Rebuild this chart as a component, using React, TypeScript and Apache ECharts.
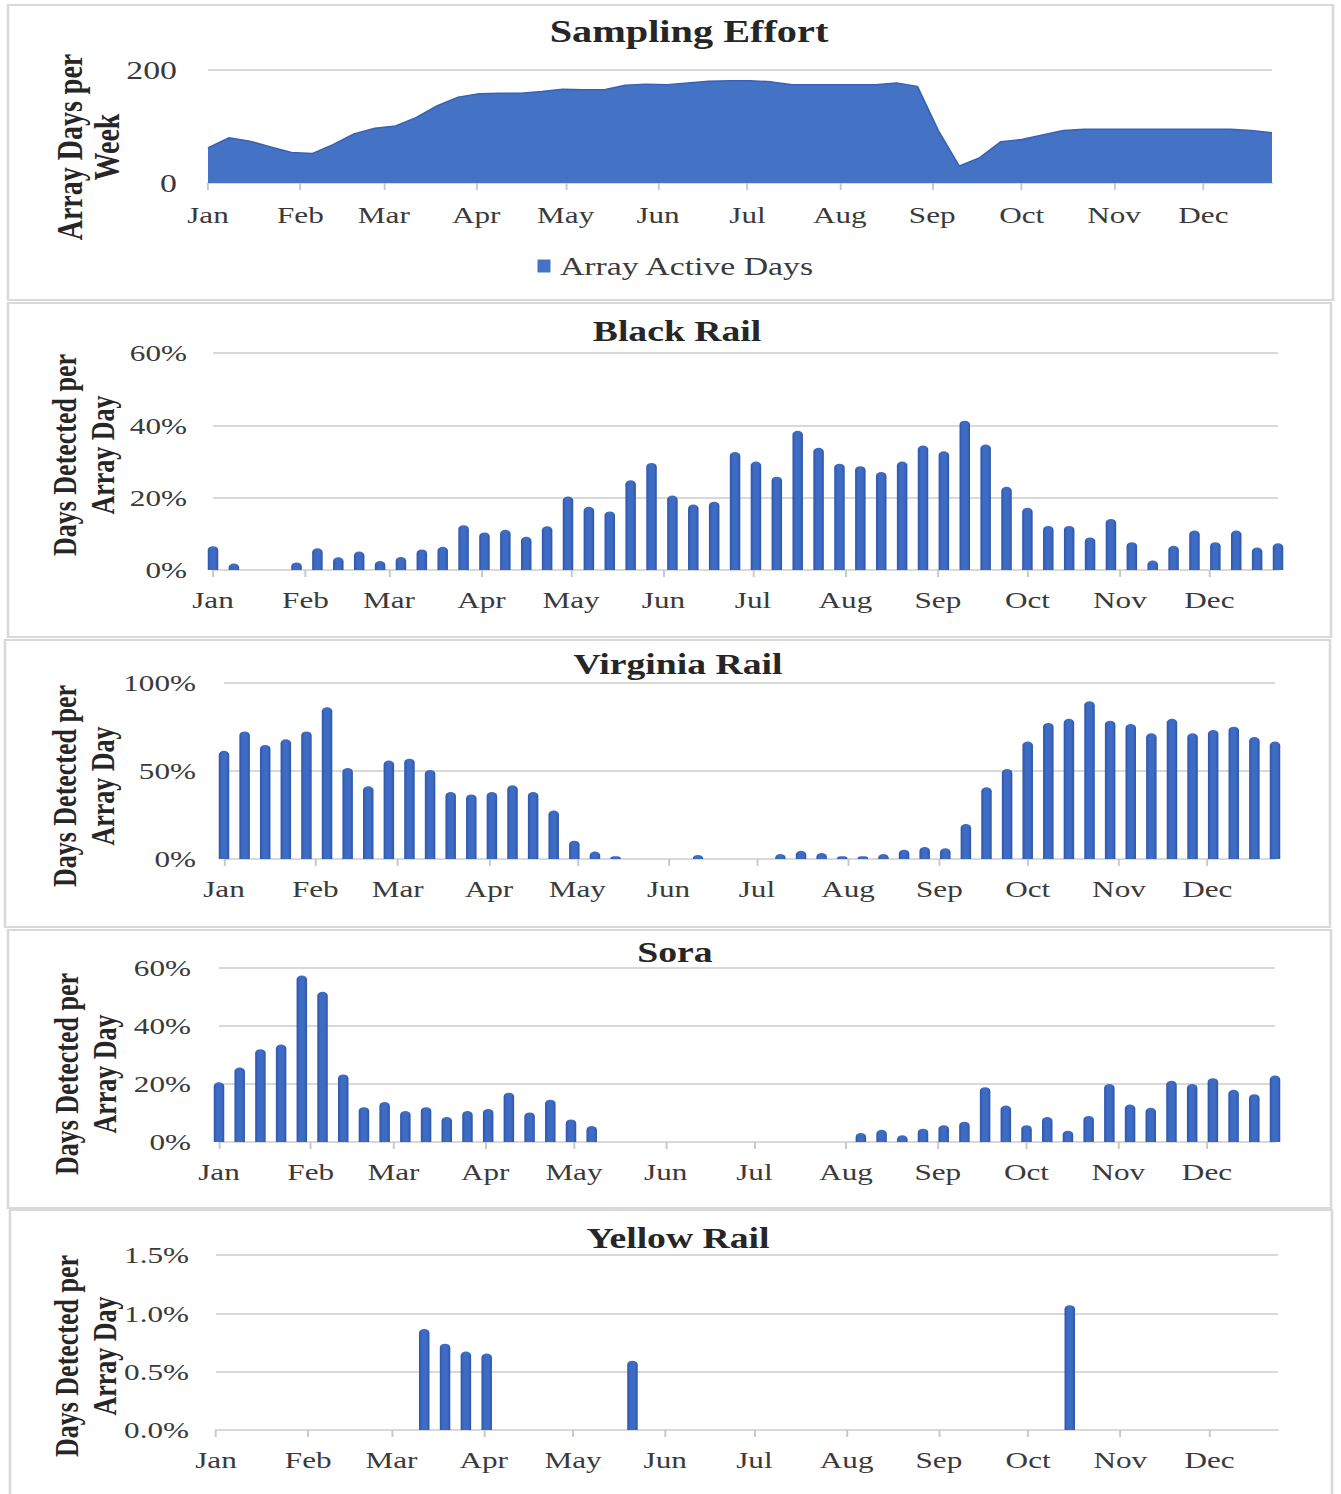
import React, { useEffect, useRef } from "react";
import * as echarts from "echarts";

// ---------- data ----------
const MONTHS = ["Jan", "Feb", "Mar", "Apr", "May", "Jun", "Jul", "Aug", "Sep", "Oct", "Nov", "Dec"];
const MONTH_START_DAYS = [0, 31, 59, 90, 120, 151, 181, 212, 243, 273, 304, 334];
const WEEK_START_DAYS = [
  0, 7, 14, 21, 28, 35, 42, 49, 56, 63, 70, 77, 84, 91, 98, 105, 112, 119, 126, 133, 140, 147, 154, 161, 168, 175,
  182, 189, 196, 203, 210, 217, 224, 231, 238, 245, 252, 259, 266, 273, 280, 287, 294, 301, 308, 315, 322, 329, 336,
  343, 350, 357,
];

const SAMPLING_EFFORT = [
  62, 80, 74, 64, 54, 52, 68, 87, 97, 101, 116, 137, 152, 158, 159, 159, 162, 166, 165, 165, 173, 175, 174, 177, 180,
  181, 181, 179, 174, 174, 174, 174, 174, 177, 171, 93, 30, 45, 73, 77, 85, 93, 95, 95, 95, 95, 95, 95, 95, 95, 93, 89,
];

const BLACK_RAIL = [
  6.6, 1.8, 0, 0, 2.1, 6, 3.5, 5.1, 2.5, 3.6, 5.7, 6.4, 12.4, 10.4, 11.1, 9.2, 12.1, 20.3, 17.5, 16.2, 24.8, 29.6,
  20.6, 18.1, 18.9, 32.6, 30, 25.8, 38.5, 33.8, 29.4, 28.7, 27.1, 30, 34.4, 32.8, 41.3, 34.7, 23, 17.2, 12.2, 12.2, 9,
  14.1, 7.7, 2.6, 6.7, 10.9, 7.7, 10.9, 6.2, 7.4,
];

const VIRGINIA_RAIL = [
  61.5, 72.5, 64.8, 68, 72.5, 86.2, 51.7, 41.3, 55.9, 57, 50.6, 38, 36.7, 38, 41.9, 38, 27.5, 10.4, 4.2, 1.5, 0, 0, 0,
  2.3, 0, 0, 0, 2.8, 4.7, 3.4, 1.5, 1.5, 2.8, 5.3, 6.8, 6.1, 19.9, 40.7, 51.1, 66.7, 77.3, 79.7, 89.6, 78.6, 76.7,
  71.4, 79.7, 71.4, 73.3, 75.2, 69.3, 66.7,
];

const SORA = [
  20.6, 25.7, 32, 33.6, 57.4, 51.8, 23.3, 12, 13.8, 10.7, 12, 8.6, 10.7, 11.4, 17, 10.2, 14.6, 7.8, 5.5, 0, 0, 0, 0,
  0, 0, 0, 0, 0, 0, 0, 0, 3.1, 4.2, 2.3, 4.6, 5.8, 7, 18.9, 12.6, 5.8, 8.6, 3.9, 9, 20, 12.9, 11.8, 21.1, 20, 22, 18,
  16.5, 22.9,
];

const YELLOW_RAIL = [
  0, 0, 0, 0, 0, 0, 0, 0, 0, 0, 0.866, 0.74, 0.673, 0.656, 0, 0, 0, 0, 0, 0, 0.594, 0, 0, 0, 0, 0, 0, 0, 0, 0, 0, 0, 0,
  0, 0, 0, 0, 0, 0, 0, 0, 1.07, 0, 0, 0, 0, 0, 0, 0, 0, 0, 0,
];

const EFFORT_TICKS = [0, 200];
const BLACK_TICKS = [0, 20, 40, 60];
const VIRGINIA_TICKS = [0, 50, 100];
const SORA_TICKS = [0, 20, 40, 60];
const YELLOW_TICKS = [0, 0.5, 1, 1.5];

// ---------- layout (reference pixel coords; x is scaled by S) ----------
const CW = 1032;
const CH = 1494;
const S = 1341 / CW;
const cx = (x: number) => x / S;

const FONT = "'Liberation Serif', 'Times New Roman', Times, serif";
const TEXT = "#3a3a3a";
const DARK = "#262626";
const GRID_LINE = "#d9d9d9";

type Panel = {
  title: string;
  titleX: number;
  titleY: number;
  titleSize: number;
  box: number[];
  plot: number[];
  ticks: number[];
  fmt: (v: number) => string;
  yName: string;
  yNameX: number;
  yNameY: number;
  yNameSize: number;
  yLabelGap: number;
  yLabelSize: number;
  xLabelGap: number;
  values: number[];
  kind: "area" | "bar";
};

const PANELS: Panel[] = [
  {
    title: "Sampling Effort", titleX: 689, titleY: 32, titleSize: 31,
    box: [8, 5, 1325, 295], plot: [208, 70, 1272, 183], ticks: EFFORT_TICKS,
    fmt: (v) => String(v), yName: "Array Days per\nWeek", yNameX: 88, yNameY: 147, yNameSize: 28,
    yLabelGap: 31, yLabelSize: 26, xLabelGap: 20, values: SAMPLING_EFFORT, kind: "area",
  },
  {
    title: "Black Rail", titleX: 677, titleY: 331, titleSize: 29,
    box: [8, 303, 1323, 334], plot: [213, 353, 1278, 570], ticks: BLACK_TICKS,
    fmt: (v) => v + "%", yName: "Days Detected per\nArray Day", yNameX: 84, yNameY: 455, yNameSize: 26,
    yLabelGap: 26, yLabelSize: 24, xLabelGap: 18, values: BLACK_RAIL, kind: "bar",
  },
  {
    title: "Virginia Rail", titleX: 678, titleY: 664, titleSize: 29,
    box: [5, 640, 1325, 287], plot: [224, 683, 1275, 859], ticks: VIRGINIA_TICKS,
    fmt: (v) => v + "%", yName: "Days Detected per\nArray Day", yNameX: 84, yNameY: 786, yNameSize: 26,
    yLabelGap: 28, yLabelSize: 24, xLabelGap: 18, values: VIRGINIA_RAIL, kind: "bar",
  },
  {
    title: "Sora", titleX: 675, titleY: 952, titleSize: 29,
    box: [8, 930, 1323, 278], plot: [219, 968, 1275, 1142], ticks: SORA_TICKS,
    fmt: (v) => v + "%", yName: "Days Detected per\nArray Day", yNameX: 86, yNameY: 1074, yNameSize: 26,
    yLabelGap: 28, yLabelSize: 24, xLabelGap: 18, values: SORA, kind: "bar",
  },
  {
    title: "Yellow Rail", titleX: 678, titleY: 1238, titleSize: 29,
    box: [10, 1210, 1322, 290], plot: [216, 1255, 1278, 1430], ticks: YELLOW_TICKS,
    fmt: (v) => v.toFixed(1) + "%", yName: "Days Detected per\nArray Day", yNameX: 86, yNameY: 1356, yNameSize: 26,
    yLabelGap: 27, yLabelSize: 24, xLabelGap: 18, values: YELLOW_RAIL, kind: "bar",
  },
];

function buildOption() {
  const barColor = new echarts.graphic.LinearGradient(0, 0, 1, 0, [
    { offset: 0, color: "#2d56aa" },
    { offset: 0.3, color: "#3e6bc4" },
    { offset: 0.7, color: "#3e6bc4" },
    { offset: 1, color: "#2d56aa" },
  ]);

  const grid = PANELS.map((p) => ({
    left: cx(p.plot[0]),
    top: p.plot[1],
    width: cx(p.plot[2] - p.plot[0]),
    height: p.plot[3] - p.plot[1],
    containLabel: false,
    outerBoundsMode: "none",
  }));

  const xAxis = PANELS.map((p, i) => ({
    type: "value",
    gridIndex: i,
    min: WEEK_START_DAYS[0],
    max: WEEK_START_DAYS[WEEK_START_DAYS.length - 1],
    axisLine: { show: true, onZero: false, lineStyle: { color: GRID_LINE, width: 2 } },
    axisTick: {
      show: true,
      customValues: MONTH_START_DAYS,
      length: 7,
      lineStyle: { color: "#c8c8c8", width: 1.5 },
    },
    axisLabel: {
      show: true,
      customValues: MONTH_START_DAYS,
      showMinLabel: true,
      showMaxLabel: true,
      formatter: (v: number) => {
        const k = MONTH_START_DAYS.indexOf(Math.round(v));
        return k >= 0 ? MONTHS[k] : "";
      },
      margin: p.xLabelGap,
      fontSize: 24,
      fontFamily: FONT,
      color: TEXT,
    },
    splitLine: { show: false },
  }));

  const yAxis = PANELS.map((p, i) => ({
    type: "value",
    gridIndex: i,
    min: p.ticks[0],
    max: p.ticks[p.ticks.length - 1],
    interval: p.ticks[1] - p.ticks[0],
    axisLine: { show: false },
    axisTick: { show: false },
    axisLabel: {
      formatter: p.fmt,
      margin: cx(p.yLabelGap),
      fontSize: p.yLabelSize,
      fontFamily: FONT,
      color: TEXT,
    },
    splitLine: { show: true, lineStyle: { color: GRID_LINE, width: 2 } },
  }));

  const series = PANELS.map((p, i) => {
    const data = WEEK_START_DAYS.map((d, k) => [d, p.values[k]]);
    if (p.kind === "area") {
      return {
        type: "line",
        name: "Array Active Days",
        xAxisIndex: i,
        yAxisIndex: i,
        data,
        symbol: "none",
        lineStyle: { color: "#3a62b4", width: 1.5 },
        areaStyle: { color: "#4472C4", opacity: 1 },
        itemStyle: { color: "#4472C4" },
        z: 3,
      };
    }
    return {
      type: "bar",
      name: p.title,
      xAxisIndex: i,
      yAxisIndex: i,
      data,
      barWidth: cx(10.5),
      clip: true,
      itemStyle: { color: barColor, borderRadius: [4, 4, 0, 0] },
      z: 3,
    };
  });

  const graphic: any[] = [];
  PANELS.forEach((p) => {
    graphic.push({
      type: "rect",
      silent: true,
      z: -10,
      shape: { x: cx(p.box[0]), y: p.box[1], width: cx(p.box[2]), height: p.box[3] },
      style: { fill: "#ffffff", stroke: GRID_LINE, lineWidth: 2 },
    });
    graphic.push({
      type: "text",
      silent: true,
      x: cx(p.titleX),
      y: p.titleY,
      style: {
        text: p.title,
        fontSize: p.titleSize,
        fontWeight: "bold",
        fontFamily: FONT,
        fill: DARK,
        align: "center",
        verticalAlign: "middle",
        textAlign: "center",
        textVerticalAlign: "middle",
      },
    });
    graphic.push({
      type: "text",
      silent: true,
      x: cx(p.yNameX),
      y: p.yNameY,
      rotation: Math.PI / 2,
      style: {
        text: p.yName,
        fontSize: p.yNameSize,
        fontWeight: "bold",
        fontFamily: FONT,
        fill: DARK,
        lineHeight: 29,
        align: "center",
        verticalAlign: "middle",
        textAlign: "center",
        textVerticalAlign: "middle",
      },
    });
  });

  return {
    animation: false,
    backgroundColor: "#ffffff",
    grid,
    xAxis,
    yAxis,
    series,
    graphic,
    legend: {
      data: ["Array Active Days"],
      left: cx(531),
      top: 248,
      icon: "rect",
      itemWidth: cx(13),
      itemHeight: 13,
      itemStyle: { color: "#4472C4" },
      textStyle: { fontSize: 26, fontFamily: FONT, color: TEXT, padding: [0, 0, 0, cx(3)] },
      selectedMode: false,
    },
  };
}

export default function App() {
  const ref = useRef<HTMLDivElement>(null);
  useEffect(() => {
    document.body.style.margin = "0";
    if (!ref.current) return;
    const chart = echarts.init(ref.current, undefined, { renderer: "svg" });
    chart.setOption(buildOption() as any);
    return () => chart.dispose();
  }, []);
  return (
    <div
      ref={ref}
      style={{
        width: CW,
        height: CH,
        transform: `scaleX(${S})`,
        transformOrigin: "0 0",
      }}
    />
  );
}
